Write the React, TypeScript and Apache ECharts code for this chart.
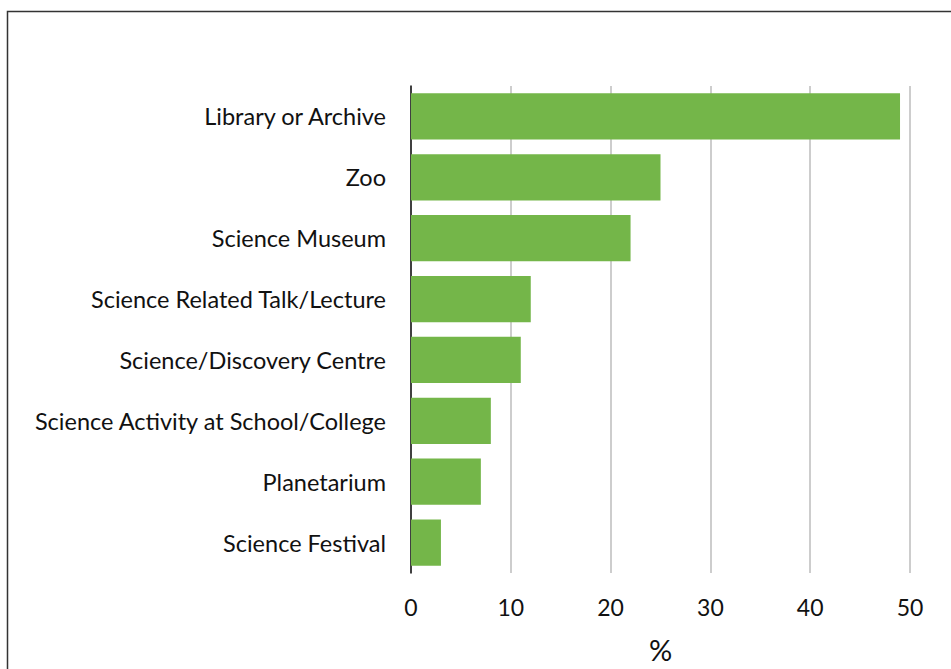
import React, { useEffect, useRef } from "react";
import * as echarts from "echarts";

const categories = [
  "Library or Archive",
  "Zoo",
  "Science Museum",
  "Science Related Talk/Lecture",
  "Science/Discovery Centre",
  "Science Activity at School/College",
  "Planetarium",
  "Science Festival",
];
const values = [49, 25, 22, 12, 11, 8, 7, 3];
const xTicks = [0, 10, 20, 30, 40, 50];
const xAxisName = "%";

const FONT = "Lato, 'Open Sans', sans-serif";

export default function App() {
  const ref = useRef<HTMLDivElement>(null);
  useEffect(() => {
    document.body.style.margin = "0";
    const chart = echarts.init(ref.current!, null, { renderer: "svg" });
    chart.setOption({
      animation: false,
      backgroundColor: "#ffffff",
      graphic: [
        {
          type: "rect",
          left: 5,
          top: 9,
          shape: { x: 0, y: 0, width: 1000, height: 700 },
          style: { fill: "none", stroke: "#333", lineWidth: 1.5 },
          silent: true,
          z: 100,
        },
      ],
      grid: { left: 411, right: 41, top: 86, bottom: 78, containLabel: false },
      xAxis: {
        type: "value",
        min: xTicks[0],
        max: xTicks[xTicks.length - 1],
        interval: 10,
        name: xAxisName,
        nameLocation: "middle",
        nameGap: 62,
        nameTextStyle: { fontFamily: FONT, fontSize: 29, color: "#111" },
        axisLine: { show: false },
        axisTick: { show: false },
        axisLabel: { fontFamily: FONT, fontSize: 23, color: "#111", margin: 22 },
        splitLine: { show: true, lineStyle: { color: "#bdbdbd", width: 1.5 } },
      },
      yAxis: {
        type: "category",
        data: categories,
        inverse: true,
        axisLine: { show: true, lineStyle: { color: "#111", width: 1.5 } },
        axisTick: { show: false },
        axisLabel: { fontFamily: FONT, fontSize: 23.5, color: "#111", margin: 25 },
        splitLine: { show: false },
      },
      series: [
        {
          type: "bar",
          data: values,
          barCategoryGap: "24%",
          itemStyle: { color: "#74b649" },
        },
      ],
    });
    return () => chart.dispose();
  }, []);
  return <div ref={ref} style={{ width: 951, height: 669 }} />;
}
